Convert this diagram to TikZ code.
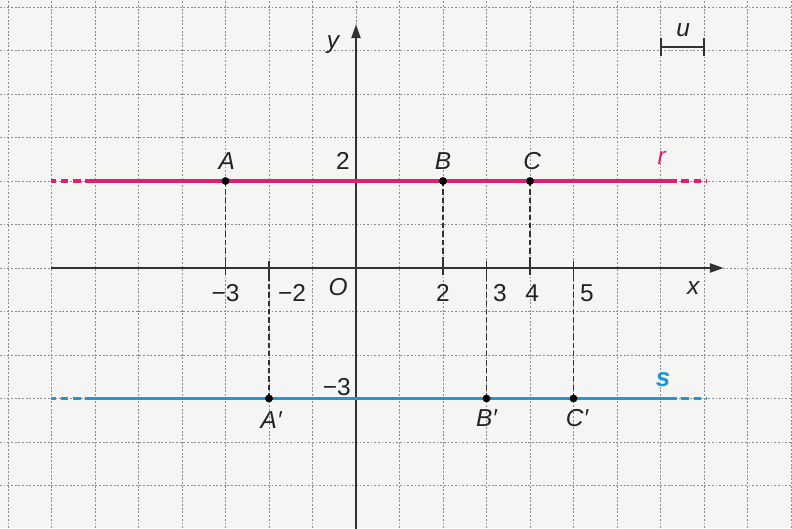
\documentclass[tikz,border=0pt]{standalone}
\usepackage{fontspec}
\setmainfont{Liberation Sans}
\usetikzlibrary{arrows.meta}
\definecolor{rcol}{RGB}{226,30,112}
\definecolor{scol}{RGB}{30,150,215}
\definecolor{bgcol}{RGB}{245,245,244}
\definecolor{axcol}{RGB}{50,50,50}
\definecolor{txtcol}{RGB}{35,35,35}
\definecolor{gridcol}{RGB}{140,140,140}
\begin{document}
\begin{tikzpicture}[x=1cm,y=1cm,
  font=\fontsize{16}{19}\selectfont,
  gridline/.style={gridcol,line width=0.55pt,dash pattern=on 1.2pt off 1.2pt},
  axisline/.style={axcol,line width=1.3pt},
  tickmark/.style={axcol,line width=1.1pt},
  projline/.style={axcol,line width=1.1pt,dash pattern=on 3.5pt off 2pt},
  rline/.style={rcol,line width=2pt},
  sline/.style={scol,line width=2pt},
  dashpart/.style={dash pattern=on 5pt off 3pt},
  lbl/.style={text=txtcol,inner sep=0pt},
  ptdot/.style={fill=black}
]
\useasboundingbox (-8.184,-5.977) rectangle (10.023,6.161);
\fill[bgcol] (-8.184,-5.977) rectangle (10.023,6.161);
% grid
\foreach \i in {-8,...,10} \draw[gridline] (\i,-5.977) -- (\i,6.161);
\foreach \j in {-6,...,6} \draw[gridline] (-8.184,\j) -- (10.023,\j);

% coordinates
\coordinate (O) at (0,0);
\coordinate (xs) at (-7,0);
\coordinate (xe) at (8.45,0);
\coordinate (ys) at (0,-6.1);
\coordinate (ye) at (0,5.6);
\coordinate (A) at (-3,2);
\coordinate (B) at (2,2);
\coordinate (C) at (4,2);
\coordinate (A1) at (-2,-3);
\coordinate (B1) at (3,-3);
\coordinate (C1) at (5,-3);

% projections
\foreach \p in {A,B,C,A1,B1,C1} \draw[projline] (\p) -- (\p|-O);

% axes
\draw[axisline,-{Triangle[length=9pt,width=6pt]}] (xs) -- (xe);
\draw[axisline,-{Triangle[length=9pt,width=6pt]}] (ys) -- (ye);
\foreach \t in {-3,-2,2,3,4,5} \draw[tickmark] (\t,-0.17) -- (\t,0.17);

% line r
\coordinate (r0) at (-7,2);
\coordinate (r1) at (-6.05,2);
\coordinate (r2) at (7.2,2);
\coordinate (r3) at (8.05,2);
\draw[rline] (r1) -- (r2);
\draw[rline,dashpart] (r1) -- (r0);
\draw[rline,dashpart] (r2) -- (r3);
% line s
\coordinate (s0) at (-7,-3);
\coordinate (s1) at (-6.05,-3);
\coordinate (s2) at (7.2,-3);
\coordinate (s3) at (8.05,-3);
\draw[sline] (s1) -- (s2);
\draw[sline,dashpart] (s1) -- (s0);
\draw[sline,dashpart] (s2) -- (s3);

% points
\foreach \p in {A,B,C,A1,B1,C1} \fill[ptdot] (\p) circle[radius=0.09];

% unit bracket
\coordinate (u0) at (7.01,5.08);
\coordinate (u1) at (8.0,5.08);
\draw[axcol,line width=1pt] (u0) -- (u1);
\draw[axcol,line width=1pt] ([yshift=0.2cm]u0) -- ([yshift=-0.2cm]u0);
\draw[axcol,line width=1pt] ([yshift=0.2cm]u1) -- ([yshift=-0.2cm]u1);
\node[lbl] (ulab) at (7.52,5.47) {\itshape u};

% labels
\node[lbl] (Alab) at (-2.97,2.45) {\itshape A};
\node[lbl] (Blab) at (2.0,2.45) {\itshape B};
\node[lbl] (Clab) at (4.05,2.45) {\itshape C};
\node[lbl,text=rcol] (rlab) at (7.03,2.52) {\itshape r};
\node[lbl,text=scol,font=\fontsize{17}{19}\selectfont] (slab) at (7.06,-2.57) {\bfseries\itshape s};
\node[lbl] (two) at (-0.3,2.45) {2};
\node[lbl] (ylab) at (-0.53,5.13) {\itshape y};
\node[lbl] (xlab) at (7.75,-0.46) {\itshape x};
\node[lbl] (Olab) at (-0.41,-0.43) {\itshape O};
\node[lbl] (m3) at (-3.0,-0.57) {−3};
\node[lbl] (m2) at (-1.47,-0.57) {−2};
\node[lbl] (p2) at (2.0,-0.57) {2};
\node[lbl] (p3) at (3.31,-0.57) {3};
\node[lbl] (p4) at (4.05,-0.57) {4};
\node[lbl] (p5) at (5.31,-0.57) {5};
\node[lbl] (ym3) at (-0.44,-2.74) {−3};
\node[lbl] (A1lab) at (-1.95,-3.5) {\itshape A′};
\node[lbl] (B1lab) at (3.0,-3.45) {\itshape B′};
\node[lbl] (C1lab) at (5.08,-3.45) {\itshape C′};
\end{tikzpicture}
\end{document}
